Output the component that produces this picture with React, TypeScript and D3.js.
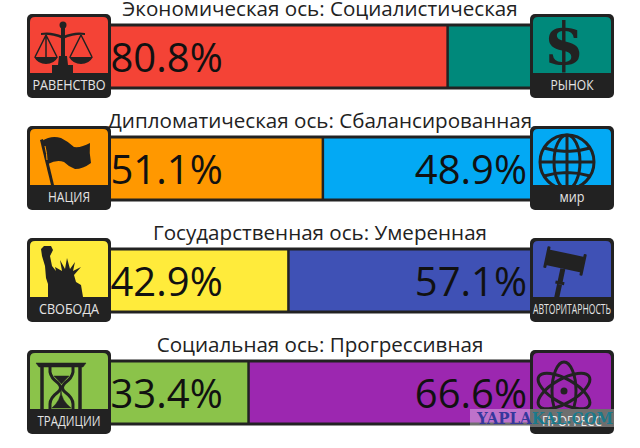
import React from "react";
import * as d3 from "d3";

const W = 640, H = 448;
const titles = [
  "Экономическая ось: Социалистическая",
  "Дипломатическая ось: Сбалансированная",
  "Государственная ось: Умеренная",
  "Социальная ось: Прогрессивная",
];
const leftValues = [80.8, 51.1, 42.9, 33.4];
const rightValues: (number | null)[] = [null, 48.9, 57.1, 66.6];
const leftColors = ["#f44336", "#ff9800", "#ffeb3b", "#8bc34a"];
const rightColors = ["#00897b", "#03a9f4", "#3f51b5", "#9c27b0"];
const leftLabels = ["РАВЕНСТВО", "НАЦИЯ", "СВОБОДА", "ТРАДИЦИИ"];
const rightLabels = ["РЫНОК", "мир", "АВТОРИТАРНОСТЬ", "ПРОГРЕСС"];
const leftLabelWidths = [73, 42, 60, 63];
const rightLabelWidths = [43, 25, 78, 60];
const leftIcons = ["scales", "flag", "liberty", "hourglass"];
const rightIcons = ["dollar", "globe", "gavel", "atom"];

const INK = "#222222";
const x = d3.scaleLinear().domain([0, 100]).range([108, 528]);
const y = d3.scaleLinear().domain([0, 1]).range([23.5, 135.5]);
const BAR_H = 66;

function Glyph({ name }: { name: string }) {
  switch (name) {
    case "scales":
      return (
        <g fill={INK} stroke="none">
          <circle cx={36} cy={11} r={3.5} />
          <rect x={34} y={11} width={4} height={42} />
          <path d="M14 19 Q24 17 36 22 Q48 17 58 19 L58 21 Q48 20 36 25 Q24 20 14 21Z" />
          <path d="M7 43 H31 Q27 50 19 50 Q11 50 7 43Z M42 43 H66 Q62 50 54 50 Q46 50 42 43Z" />
          <path d="M19 21 L8 43 M19 21 L30 43 M19 21 V43 M54 21 L43 43 M54 21 L65 43" stroke={INK} strokeWidth={1.5} fill="none" />
          <path d="M32 42 H40 L41 51 H46 V59 H25 V51 H31Z" />
        </g>
      );
    case "flag":
      return (
        <g fill={INK}>
          <path d="M13 14 L16 13 L27 59 L24 59Z" />
          <path d="M15 15 Q24 9 34 12 Q42 16 47 21 Q54 22 63 17 Q62 27 64 37 Q56 43 48 43 Q42 41 37 36 Q30 33 21 38 Q17 27 15 15Z" />
          <path d="M18 20 Q20 28 20 34" stroke="#ff9800" strokeWidth={1} fill="none" />
        </g>
      );
    case "liberty":
      return (
        <g fill={INK}>
          <path d="M14 11 L17 8 L24 8 L26 12 L23 18 L25 28 L29 33 L28 29 L35 33 L33 22 L38 31 L40 20 L43 31 L48 24 L46 33 L54 29 L47 37 L49 44 L54 47 L56 59 L21 59 L21 46 L19 40 L18 28 L15 18Z" />
        </g>
      );
    case "hourglass":
      return (
        <g fill="none" stroke={INK}>
          <path d="M9 13 H59 L56 17 H12Z" fill={INK} strokeWidth={0.5} />
          <path d="M15 17 V59 M53 17 V59" strokeWidth={3.5} />
          <path d="M23 17 V22 Q24 28 31 33 Q36 38 31 42 Q23 48 23 54 V59 M46 17 V22 Q45 28 38 33 Q33 38 38 42 Q46 48 46 54 V59" strokeWidth={3} />
          <path d="M34 40 Q34 50 25 58 H44 Q34 50 34 40Z M27 26 H42 Q38 30 34.5 34 Q31 30 27 26Z" fill={INK} strokeWidth={0.5} />
        </g>
      );
    case "dollar":
      return (
        <g>
          <text x={34} y={50} textAnchor="middle" fontFamily="'DejaVu Serif'" fontWeight={700} fontSize={58} fill={INK}>$</text>
        </g>
      );
    case "globe":
      return (
        <g fill="none" stroke={INK} strokeWidth={3}>
          <circle cx={37} cy={36} r={27} />
          <ellipse cx={37} cy={36} rx={13} ry={27} />
          <path d="M37 9 V63 M10 36 H64 M14 22 Q37 29 60 22 M14 50 Q37 43 60 50" />
        </g>
      );
    case "gavel":
      return (
        <g fill={INK} transform="rotate(12 35 23)">
          <rect x={17} y={15} width={36} height={16} />
          <rect x={15} y={12} width={3} height={22} rx={1} />
          <rect x={52} y={12} width={3} height={22} rx={1} />
          <rect x={32} y={31} width={5} height={14} />
          <rect x={30} y={44} width={9} height={3} />
          <rect x={32} y={47} width={5} height={16} />
        </g>
      );
    case "atom":
      return (
        <g fill="none" stroke={INK} strokeWidth={3}>
          <ellipse cx={34} cy={41} rx={29} ry={12} transform="rotate(30 34 41)" />
          <ellipse cx={34} cy={41} rx={29} ry={12} transform="rotate(-30 34 41)" />
          <ellipse cx={34} cy={41} rx={29} ry={12} transform="rotate(90 34 41)" />
          <circle cx={34} cy={41} r={3.5} fill={INK} stroke="none" />
        </g>
      );
  }
  return null;
}

function Badge({ bx, by, color, label, labelWidth, icon, id }: { bx: number; by: number; color: string; label: string; labelWidth: number; icon: string; id: string }) {
  return (
    <g transform={`translate(${bx},${by})`}>
      <clipPath id={id}><path d="M3 8 Q3 3 8 3 H76 Q81 3 81 8 V59 H3Z" /></clipPath>
      <rect x={0} y={0} width={84} height={84} rx={5} fill={INK} />
      <g clipPath={`url(#${id})`}>
        <rect x={3} y={3} width={78} height={56} fill={color} />
        <Glyph name={icon} />
      </g>
      <text x={42} y={76} textAnchor="middle" textLength={labelWidth} lengthAdjust="spacingAndGlyphs" fontFamily="'Open Sans'" fontSize={14} fill="#e4e4e4">{label}</text>
    </g>
  );
}

export default function App() {
  const font = "'Open Sans'";
  return (
    <svg width={W} height={H} viewBox={`0 0 ${W} ${H}`} style={{ position: "absolute", left: 0, top: 0, background: "#fff" }}>
      {titles.map((t, i) => {
        const barTop = y(i);
        const split = x(leftValues[i]);
        const right = rightValues[i];
        return (
          <g key={t}>
            <text x={320} y={barTop - 7.5} textAnchor="middle" fontFamily={font} fontSize={20.6} fill="#222">{t}</text>
            <rect x={108} y={barTop} width={424} height={BAR_H} fill={INK} />
            <rect x={108} y={barTop + 3} width={split - 108 - 1} height={BAR_H - 6} fill={leftColors[i]} />
            <rect x={split + 1.5} y={barTop + 3} width={532 - split - 1.5} height={BAR_H - 6} fill={rightColors[i]} />
            <text x={110.5} y={barTop + 48} fontFamily={font} fontSize={40} fill="#111">{leftValues[i].toFixed(1)}%</text>
            {right !== null && (
              <text x={527} y={barTop + 48} textAnchor="end" fontFamily={font} fontSize={40} fill="#111">{right.toFixed(1)}%</text>
            )}
            <Badge id={`l${i}`} bx={27} by={barTop - 9.5} color={leftColors[i]} label={leftLabels[i]} labelWidth={leftLabelWidths[i]} icon={leftIcons[i]} />
            <Badge id={`r${i}`} bx={530} by={barTop - 9.5} color={rightColors[i]} label={rightLabels[i]} labelWidth={rightLabelWidths[i]} icon={rightIcons[i]} />
          </g>
        );
      })}
      <g>
        <rect x={470} y={409} width={144} height={18} fill="#ffffff" fillOpacity={0.35} />
        <text x={477} y={424} fontFamily="'DejaVu Serif'" fontWeight={700} fontSize={16} textLength={136} lengthAdjust="spacingAndGlyphs">
          <tspan fill="#35379c">YAPLA</tspan>
          <tspan fill="#1b7a8c">KAL.COM</tspan>
        </text>
      </g>
    </svg>
  );
}
